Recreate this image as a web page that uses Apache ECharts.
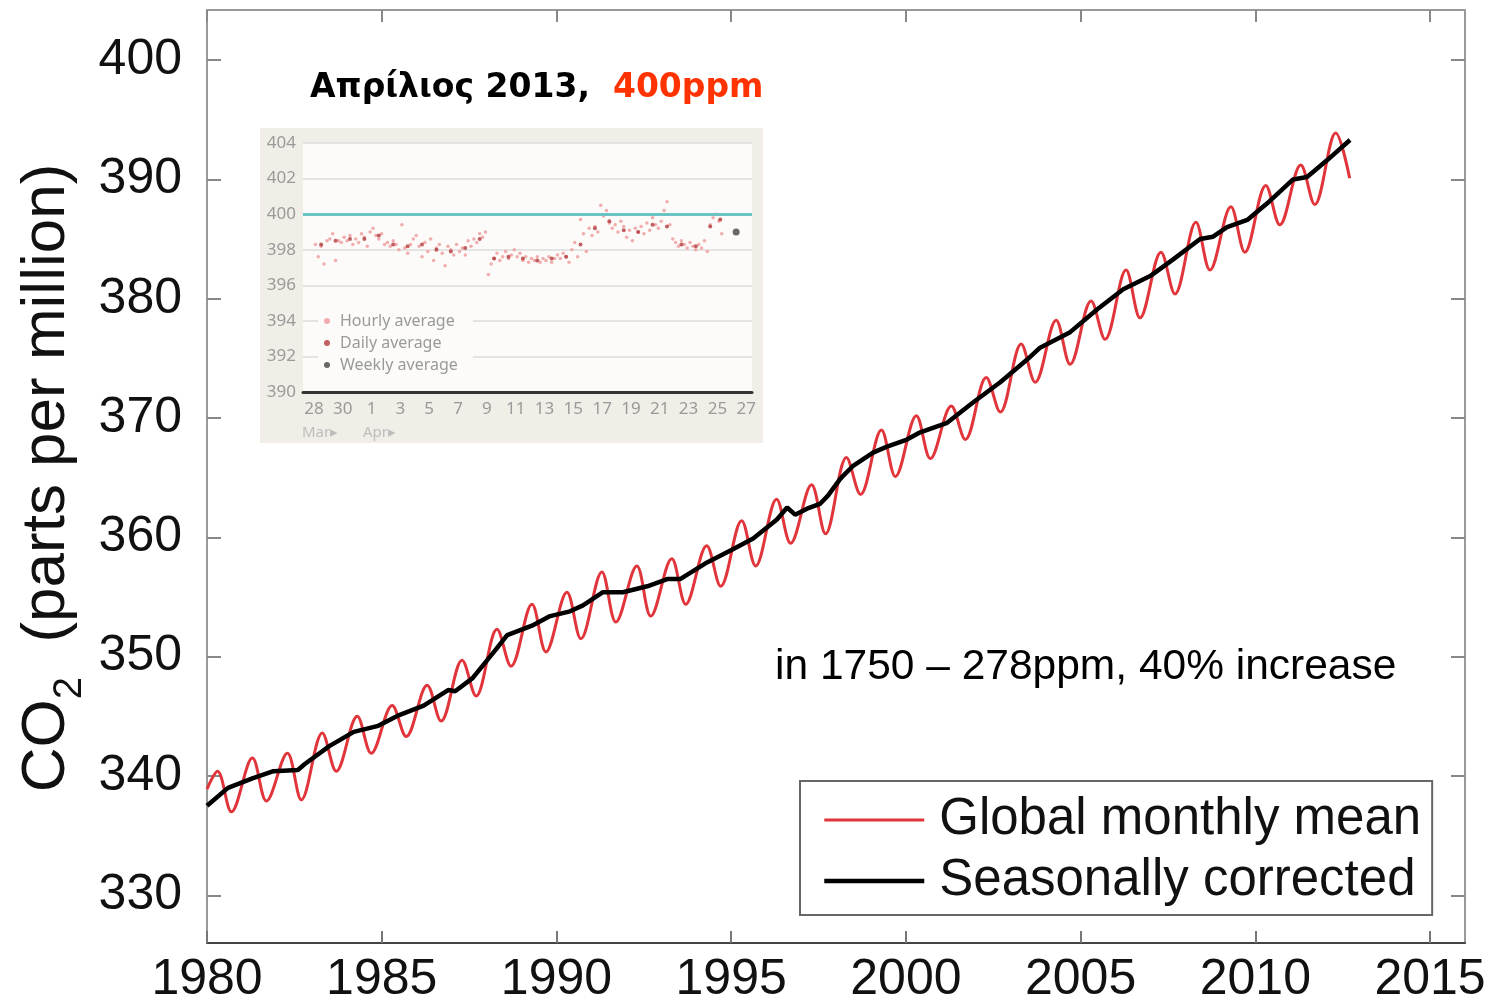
<!DOCTYPE html>
<html><head><meta charset="utf-8">
<script src="https://cdn.jsdelivr.net/npm/echarts@6/dist/echarts.min.js"></script>
<style>html,body{margin:0;padding:0;background:#fff}#c{width:1494px;height:1005px}</style>
</head><body><div id="c"></div>
<script>
// ---- main chart data ----
const xTicks = [1980, 1985, 1990, 1995, 2000, 2005, 2010, 2015];
const yTicks = [330, 340, 350, 360, 370, 380, 390, 400];

const monthlyMean = [
  [1980.0,338.9],[1980.3,340.4],[1980.7,337.0],[1981.3,341.5],[1981.7,337.9],
  [1982.3,341.9],[1982.7,338.0],[1983.3,343.6],[1983.7,340.4],[1984.3,345.0],
  [1984.7,341.9],[1985.3,345.9],[1985.7,343.3],[1986.3,347.6],[1986.7,344.6],
  [1987.3,349.7],[1987.7,346.7],[1988.3,352.3],[1988.7,349.2],[1989.3,354.4],
  [1989.7,350.4],[1990.3,355.4],[1990.7,351.5],[1991.3,357.1],[1991.7,352.9],
  [1992.3,357.6],[1992.7,353.4],[1993.3,358.2],[1993.7,354.4],[1994.3,359.3],
  [1994.7,355.9],[1995.3,361.4],[1995.7,357.6],[1996.3,363.2],[1996.7,359.5],
  [1997.3,364.4],[1997.7,360.3],[1998.3,366.7],[1998.7,363.6],[1999.3,369.0],
  [1999.7,365.1],[2000.3,370.2],[2000.7,366.6],[2001.3,371.0],[2001.7,368.2],
  [2002.3,373.4],[2002.7,370.5],[2003.3,376.2],[2003.7,373.0],[2004.3,378.2],
  [2004.7,374.5],[2005.3,379.8],[2005.7,376.6],[2006.3,382.4],[2006.7,378.4],
  [2007.3,383.9],[2007.7,380.4],[2008.3,386.4],[2008.7,382.4],[2009.3,387.7],
  [2009.7,383.9],[2010.3,389.5],[2010.7,386.2],[2011.3,391.2],[2011.7,387.9],
  [2012.3,393.9],[2012.7,390.1]
];

const seasonallyCorrected = [
  [1980.0,337.5],[1980.6,339.0],[1981.3,339.8],[1981.9,340.4],[1982.6,340.5],
  [1982.8,341.0],[1983.5,342.5],[1984.2,343.7],[1984.9,344.2],[1985.5,345.1],
  [1986.2,345.9],[1986.9,347.2],[1987.1,347.1],[1987.6,348.2],[1988.24,350.5],
  [1988.59,351.8],[1989.3,352.6],[1989.82,353.4],[1990.39,353.8],[1990.76,354.3],
  [1991.33,355.4],[1991.9,355.4],[1992.6,355.9],[1993.17,356.5],[1993.54,356.5],
  [1994.31,357.9],[1995.05,359.0],[1995.63,359.9],[1996.31,361.5],[1996.6,362.5],
  [1996.83,361.9],[1997.17,362.4],[1997.54,362.8],[1997.77,363.5],[1998.12,364.9],
  [1998.49,366.0],[1999.06,367.1],[1999.46,367.6],[2000.03,368.2],[2000.41,368.8],
  [2001.18,369.6],[2001.92,371.3],[2002.7,373.0],[2003.47,374.9],[2003.84,375.9],
  [2004.7,377.2],[2005.47,379.1],[2006.22,380.8],[2006.99,381.9],[2007.65,383.3],
  [2008.42,385.0],[2008.79,385.2],[2009.19,386.0],[2009.77,386.6],[2010.34,388.0],
  [2011.08,390.0],[2011.48,390.2],[2012.05,391.6],[2012.71,393.3]
];

// ---- inset (Mauna Loa, March 28 - April 27 2013), x = days after March 28 ----
const insetDayTicks = [0,2,4,6,8,10,12,14,16,18,20,22,24,26,28,30];
const insetDayLabels = ['28','30','1','3','5','7','9','11','13','15','17','19','21','23','25','27'];
const insetMonthLabels = ['Mar\u25B8', 'Apr\u25B8'];

const hourlyAverage = [
  [0.1,398.3],[0.3,397.6],[0.5,398.2],[0.7,397.2],[0.9,398.5],
  [1.1,398.6],[1.3,398.9],[1.5,397.4],[1.7,398.5],[1.9,398.4],
  [2.1,398.7],[2.3,398.5],[2.5,398.8],[2.7,398.3],[2.9,398.6],
  [3.1,398.4],[3.3,398.9],[3.5,398.7],[3.7,398.2],[3.9,399.0],
  [4.1,399.2],[4.3,398.8],[4.5,398.6],[4.7,398.9],[4.9,398.3],
  [5.1,398.4],[5.3,398.2],[5.5,398.5],[5.7,398.3],[5.9,398.0],
  [6.1,399.4],[6.3,398.1],[6.5,397.8],[6.7,398.3],[6.9,398.6],
  [7.1,398.8],[7.3,398.2],[7.5,397.6],[7.7,398.4],[7.9,397.9],
  [8.1,398.6],[8.3,397.4],[8.5,398.1],[8.7,398.3],[8.9,397.8],
  [9.1,397.1],[9.3,398.2],[9.5,398.0],[9.7,397.7],[9.9,398.3],
  [10.1,397.9],[10.3,398.1],[10.5,397.7],[10.7,398.5],[10.9,398.2],
  [11.1,398.6],[11.3,398.4],[11.5,398.9],[11.7,398.7],[11.9,399.0],
  [12.1,396.6],[12.3,397.2],[12.5,397.5],[12.7,397.8],[12.9,397.4],
  [13.1,397.6],[13.3,397.9],[13.5,397.5],[13.7,397.7],[13.9,398.0],
  [14.1,397.6],[14.3,397.8],[14.5,397.4],[14.7,397.6],[14.9,397.3],
  [15.1,397.5],[15.3,397.4],[15.5,397.6],[15.7,397.3],[15.9,397.5],
  [16.1,397.4],[16.3,397.6],[16.5,397.3],[16.7,397.5],[16.9,397.7],
  [17.1,397.5],[17.3,397.8],[17.5,397.6],[17.7,397.3],[17.9,398.0],
  [18.1,398.4],[18.3,397.6],[18.5,399.7],[18.7,398.9],[18.9,397.9],
  [19.1,399.2],[19.3,398.8],[19.5,399.3],[19.7,399.0],[19.9,400.5],
  [20.1,399.9],[20.3,400.2],[20.5,399.5],[20.7,399.2],[20.9,399.4],
  [21.1,399.0],[21.3,399.6],[21.5,399.3],[21.7,398.7],[21.9,399.1],
  [22.1,398.5],[22.3,399.2],[22.5,399.0],[22.7,399.3],[22.9,398.9],
  [23.1,399.5],[23.3,399.1],[23.5,399.8],[23.7,399.4],[23.9,399.2],
  [24.1,399.6],[24.3,400.2],[24.5,400.7],[24.7,399.4],[24.9,398.6],
  [25.1,398.4],[25.3,398.2],[25.5,398.5],[25.7,398.3],[25.9,398.1],
  [26.1,398.4],[26.3,398.2],[26.5,398.0],[26.7,398.3],[26.9,398.1],
  [27.1,398.5],[27.3,397.9],[27.5,399.4],[27.7,399.8],[27.9,400.0],
  [28.1,399.6],[28.3,398.9]
];
const dailyAverage = [
  [0.5,398.3],[1.5,398.5],[2.5,398.6],[3.5,398.6],[4.5,398.8],[5.5,398.3],
  [6.5,398.2],[7.5,398.3],[8.5,398.0],[9.5,397.9],[10.5,398.1],[11.5,398.6],
  [12.5,397.5],[13.5,397.6],[14.5,397.5],[15.5,397.4],[16.5,397.5],[17.5,397.6],
  [18.5,398.3],[19.5,399.2],[20.5,399.6],[21.5,399.1],[22.5,399.0],[23.5,399.4],
  [24.5,399.3],[25.5,398.3],[26.5,398.2],[27.5,399.3],[28.2,399.7]
];
const weeklyAverage = [[29.3,399.0]];

const FONT = 'Liberation Sans, Arial, sans-serif';

const chart = echarts.init(document.getElementById('c'));
chart.setOption({
  animation: false,
  backgroundColor: '#ffffff',
  grid: [
    {left: 207, top: 10, width: 1258, height: 935, containLabel: false},
    {left: 303, top: 143, width: 449, height: 249, show: true,
     backgroundColor: '#fcfbf9', borderWidth: 0, containLabel: false}
  ],
  xAxis: [
    {gridIndex: 0, type: 'value', position: 'bottom', min: 1980, max: 2016,
     axisLine: {show: true, onZero: false, lineStyle: {color: '#444', width: 2}},
     axisTick: {show: true, inside: true, length: 12, customValues: xTicks,
                lineStyle: {color: '#777', width: 2}},
     axisLabel: {customValues: xTicks, fontSize: 50, margin: 12, color: '#111', fontFamily: FONT,
                 formatter: function (v) { return String(v); }},
     splitLine: {show: false}},
    {gridIndex: 0, type: 'value', position: 'top', min: 1980, max: 2016,
     axisLine: {show: true, onZero: false, lineStyle: {color: '#999', width: 2}},
     axisTick: {show: true, inside: true, length: 12, customValues: xTicks,
                lineStyle: {color: '#888', width: 2}},
     axisLabel: {show: false}, splitLine: {show: false}},
    {gridIndex: 1, type: 'value', min: -0.76, max: 30.4,
     axisLine: {show: true, onZero: false, lineStyle: {color: '#333', width: 3}},
     axisTick: {show: false},
     axisLabel: {customValues: insetDayTicks, fontSize: 17, margin: 9, color: '#9a9a9a',
                 fontFamily: 'Noto Sans, sans-serif',
                 formatter: function (v) { return insetDayLabels[insetDayTicks.indexOf(Math.round(v))] || ''; }},
     splitLine: {show: false}}
  ],
  yAxis: [
    {gridIndex: 0, type: 'value', position: 'left', min: 326, max: 404.2,
     axisLine: {show: true, onZero: false, lineStyle: {color: '#999', width: 2}},
     axisTick: {show: true, inside: true, length: 14, customValues: yTicks,
                lineStyle: {color: '#888', width: 2}},
     axisLabel: {customValues: yTicks, fontSize: 50, margin: 25, color: '#111', fontFamily: FONT},
     splitLine: {show: false}},
    {gridIndex: 0, type: 'value', position: 'right', min: 326, max: 404.2,
     axisLine: {show: true, onZero: false, lineStyle: {color: '#999', width: 2}},
     axisTick: {show: true, inside: true, length: 14, customValues: yTicks,
                lineStyle: {color: '#888', width: 2}},
     axisLabel: {show: false}, splitLine: {show: false}},
    {gridIndex: 1, type: 'value', min: 390, max: 404, interval: 2,
     axisLine: {show: false}, axisTick: {show: false},
     axisLabel: {fontSize: 17, margin: 7, color: '#9a9a9a', fontFamily: 'Noto Sans, sans-serif'},
     splitLine: {show: true, lineStyle: {color: '#dcdcdc', width: 1.5}}}
  ],
  legend: [
    {data: ['Global monthly mean', 'Seasonally corrected'],
     orient: 'vertical', left: 800, top: 781,
     itemWidth: 100, itemHeight: 0.1, itemGap: 9,
     padding: [13, 11, 8, 22],
     borderColor: '#666', borderWidth: 2, backgroundColor: '#fff',
     selectedMode: false,
     lineStyle: {width: 'inherit'},
     textStyle: {fontSize: 51, fontFamily: FONT, color: '#111', lineHeight: 52, padding: [0, 0, 0, 10]}},
    {data: ['Hourly average', 'Daily average', 'Weekly average'],
     orient: 'vertical', left: 318, top: 306,
     itemWidth: 6, itemHeight: 6, itemGap: 2, icon: 'circle',
     padding: [5, 15, 5, 6], backgroundColor: '#fcfbf9',
     selectedMode: false,
     textStyle: {fontSize: 16, color: '#9a9a9a', fontFamily: 'Noto Sans, sans-serif', lineHeight: 20, padding: [0, 0, 0, 5]}}
  ],
  graphic: [
    {type: 'rect', z: -1, shape: {x: 260, y: 128, width: 503, height: 315},
     style: {fill: '#f1eee8'}, silent: true},
    {type: 'text', x: 310, y: 88, z: 10,
     style: {text: '{a|Απρίλιος 2013,}{b|  400ppm}', verticalAlign: 'middle',
             rich: {a: {fontSize: 33, fontWeight: 'bold', fontFamily: 'DejaVu Sans', fill: '#000'},
                    b: {fontSize: 33, fontWeight: 'bold', fontFamily: 'DejaVu Sans', fill: '#ff3300'}}}},
    {type: 'text', x: 775, y: 667, z: 10,
     style: {text: 'in 1750 \u2013 278ppm, 40% increase', fontSize: 42.5, fontFamily: FONT,
             fill: '#000', verticalAlign: 'middle'}},
    {type: 'text', x: 49, y: 478, rotation: Math.PI / 2, z: 10,
     style: {text: '{m|CO}{s|2}{m|  (parts per million)}', align: 'center', verticalAlign: 'middle',
             rich: {m: {fontSize: 62, fontFamily: FONT, fill: '#111', lineHeight: 66, verticalAlign: 'top'},
                    s: {fontSize: 40, fontFamily: FONT, fill: '#111', lineHeight: 40, padding: [34, 0, 0, 0], verticalAlign: 'top'}}}},
    {type: 'text', x: 302, y: 433, z: 10,
     style: {text: insetMonthLabels[0], fontSize: 15, fill: '#bdbdbd', fontFamily: 'Noto Sans, sans-serif', verticalAlign: 'middle'}},
    {type: 'text', x: 363, y: 433, z: 10,
     style: {text: insetMonthLabels[1], fontSize: 15, fill: '#bdbdbd', fontFamily: 'Noto Sans, sans-serif', verticalAlign: 'middle'}}
  ],
  series: [
    {name: 'Global monthly mean', type: 'line', xAxisIndex: 0, yAxisIndex: 0,
     data: monthlyMean, symbol: 'none', smooth: 0.35, z: 3,
     lineStyle: {color: '#e0353b', width: 3}, itemStyle: {color: '#e0353b'}},
    {name: 'Seasonally corrected', type: 'line', xAxisIndex: 0, yAxisIndex: 0,
     data: seasonallyCorrected, symbol: 'none', z: 4,
     lineStyle: {color: '#000', width: 4.5}, itemStyle: {color: '#000'}},
    {name: 'Hourly average', type: 'scatter', xAxisIndex: 2, yAxisIndex: 2,
     data: hourlyAverage, symbolSize: 3.5, itemStyle: {color: '#ee9a9a'}, z: 3,
     markLine: {silent: true, symbol: 'none', label: {show: false},
                lineStyle: {color: '#6cc3c3', width: 3, type: 'solid'},
                data: [{yAxis: 400}]}},
    {name: 'Daily average', type: 'scatter', xAxisIndex: 2, yAxisIndex: 2,
     data: dailyAverage, symbolSize: 4, itemStyle: {color: '#b03a3a'}, z: 4},
    {name: 'Weekly average', type: 'scatter', xAxisIndex: 2, yAxisIndex: 2,
     data: weeklyAverage, symbolSize: 7, itemStyle: {color: '#444'}, z: 5}
  ]
});
</script>
</body></html>
